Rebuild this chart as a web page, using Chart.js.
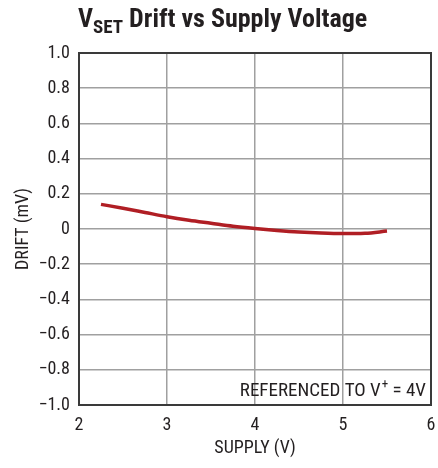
<!DOCTYPE html>
<html><head><meta charset="utf-8">
<script src="https://cdn.jsdelivr.net/npm/chart.js@4.4.1/dist/chart.umd.min.js"></script>
<style>
html,body{margin:0;padding:0;background:#fff;}
#wrap{position:relative;width:438px;height:468px;}
#title{position:absolute;left:78px;top:3px;font-family:'Liberation Sans Narrow','Roboto Condensed','Liberation Sans',sans-serif;font-weight:bold;font-size:26px;color:#231f20;white-space:nowrap;}
#title sub{font-size:19px;vertical-align:-6px;}
</style></head>
<body><div id="wrap"><div id="title">V<sub>SET</sub> Drift vs Supply Voltage</div><canvas id="c" width="438" height="468"></canvas></div>
<script>
const supplyV = [2.25, 2.5, 2.75, 3.0, 3.25, 3.5, 3.75, 4.0, 4.25, 4.5, 4.75, 5.0, 5.25, 5.5];
const driftMV = [0.14, 0.118, 0.094, 0.07, 0.05, 0.033, 0.016, 0.003, -0.008, -0.017, -0.023, -0.026, -0.024, -0.012];
const xTicks = [2, 3, 4, 5, 6];
const yTicks = [-1.0, -0.8, -0.6, -0.4, -0.2, 0, 0.2, 0.4, 0.6, 0.8, 1.0];
const noteMain = 'REFERENCED TO V';
const noteSup = '+';
const noteEnd = ' = 4V';

const FONT = "'Liberation Sans Narrow','Roboto Condensed','Liberation Sans',sans-serif";
const fmtY = v => { if (Math.abs(v) < 1e-9) return '0'; const s = Math.abs(v).toFixed(1); return (v < 0 ? '\u2212' : '') + s; };

const notePlugin = {
  id: 'note',
  afterDraw(chart) {
    const ctx = chart.ctx, a = chart.chartArea;
    ctx.save();
    ctx.fillStyle = '#231f20';
    ctx.textBaseline = 'alphabetic';
    ctx.font = '19px ' + FONT;
    const wEnd = ctx.measureText(noteEnd).width;
    ctx.font = '13px ' + FONT;
    const wSup = ctx.measureText(noteSup).width;
    ctx.font = '19px ' + FONT;
    const wMain = ctx.measureText(noteMain).width;
    const right = a.right - 6, base = a.bottom - 9;
    let x = right - wEnd - wSup - wMain;
    ctx.textAlign = 'left';
    ctx.fillText(noteMain, x, base); x += wMain;
    ctx.font = '13px ' + FONT;
    ctx.fillText(noteSup, x + 1, base - 8); x += wSup + 1;
    ctx.font = '19px ' + FONT;
    ctx.fillText(noteEnd, x, base);
    ctx.strokeStyle = '#3a3a3a';
    ctx.lineWidth = 2;
    ctx.strokeRect(a.left, a.top, a.right - a.left, a.bottom - a.top);
    ctx.restore();
  }
};

new Chart(document.getElementById('c'), {
  type: 'line',
  data: { datasets: [{
    data: supplyV.map((x, i) => ({ x, y: driftMV[i] })),
    borderColor: '#b01e24', borderWidth: 3.5, pointRadius: 0, tension: 0.4, fill: false,
    cubicInterpolationMode: 'monotone'
  }]},
  options: {
    responsive: false, animation: false,
    layout: { padding: { left: 9, right: 7, top: 53, bottom: 0 } },
    plugins: { legend: { display: false }, tooltip: { enabled: false } },
    scales: {
      x: {
        type: 'linear', min: 2, max: 6,
        afterBuildTicks: s => { s.ticks = xTicks.map(v => ({ value: v })); },
        afterFit: s => { s.height = 63; s.paddingLeft = 0; s.paddingRight = 0; },
        grid: { color: '#a0a0a0', lineWidth: 1.5, drawTicks: false },
        border: { display: false },
        ticks: { color: '#231f20', font: { family: FONT, size: 18 }, padding: 10, maxRotation: 0, callback: v => String(v) },
        title: { display: true, text: 'SUPPLY (V)', color: '#231f20', font: { family: FONT, size: 18 }, padding: { top: 0, bottom: 9 } }
      },
      y: {
        type: 'linear', min: -1, max: 1,
        afterBuildTicks: s => { s.ticks = yTicks.map(v => ({ value: v })); },
        afterFit: s => { s.width = 70; s.paddingTop = 0; s.paddingBottom = 0; },
        grid: { color: '#a0a0a0', lineWidth: 1.5, drawTicks: false },
        border: { display: false },
        ticks: { color: '#231f20', font: { family: FONT, size: 18 }, padding: 9, callback: v => fmtY(v) },
        title: { display: true, text: 'DRIFT (mV)', color: '#231f20', font: { family: FONT, size: 18 }, padding: { bottom: 0 } }
      }
    }
  },
  plugins: [notePlugin]
});
</script></body></html>
